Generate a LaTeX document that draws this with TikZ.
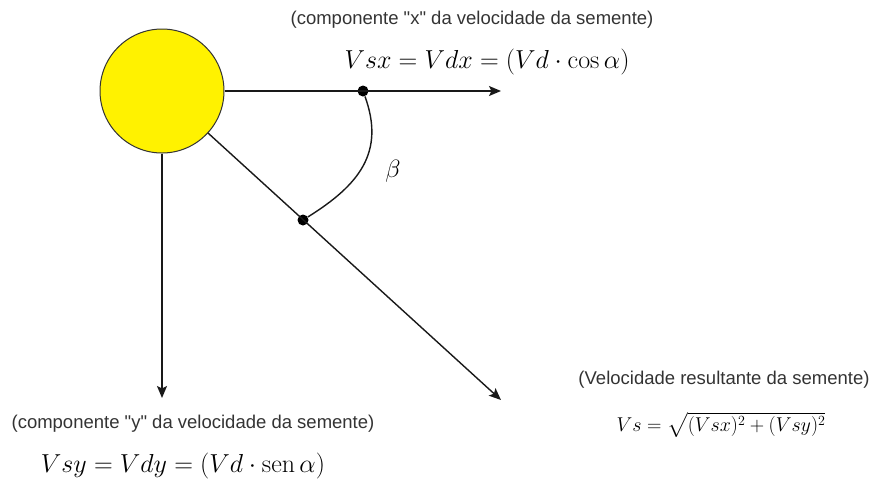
\documentclass[tikz,border=0pt]{standalone}
\usepackage{fix-cm}
\usepackage{amsmath}
\usepackage{fontspec}
\newfontfamily\capfont{Liberation Sans}
\usetikzlibrary{arrows.meta}
\begin{document}
\begin{tikzpicture}[x=1pt,y=1pt,
  line/.style={line width=1.4pt,draw=black!90},
  arr/.style={line,-{Stealth[length=12pt,width=10pt,inset=2.5pt]}},
  dot/.style={circle,fill=black,inner sep=0pt,minimum size=11pt},
  captxt/.style={font=\capfont\fontsize{18.5}{22}\selectfont,text=black!80,inner sep=0pt},
  eq/.style={font=\fontsize{26}{31}\selectfont,inner sep=0pt}]
\useasboundingbox (0,0) rectangle (874,-483);
\node[circle,draw=black!80,line width=1pt,fill=yellow,minimum size=124pt,inner sep=0pt] (seed) at (162,-91) {};
\coordinate (xend) at (501,-91);
\coordinate (yend) at (162,-398);
\coordinate (rend) at (501,-400);
\node[dot] (dx) at (363,-91) {};
\node[dot] (dr) at (303,-220) {};
\draw[arr] (seed.east) -- (xend);
\draw[arr] (seed.south) -- (yend);
\draw[arr] (seed.center) ++(-42.4:62) -- (rend);
\draw[line] (dx) to[out=-70,in=32,looseness=1.15] (dr);
\node[font=\fontsize{25}{30}\selectfont] (beta) at (393,-171) {$\beta$};
\node[captxt] (cx) at (472,-20) {(componente \textquotedbl x\textquotedbl\ da velocidade da semente)};
\node[eq] (ex) at (487,-62) {$Vsx = Vdx = (Vd\cdot \cos\alpha)$};
\node[captxt] (cy) at (193,-424) {(componente \textquotedbl y\textquotedbl\ da velocidade da semente)};
\node[eq] (ey) at (183,-466) {$Vsy = Vdy = (Vd\cdot \mathrm{sen}\,\alpha)$};
\node[captxt] (cr) at (724,-380) {(Velocidade resultante da semente)};
\node[font=\fontsize{20}{24}\selectfont,inner sep=0pt] (er) at (721,-425) {$Vs = \sqrt{(Vsx)^2 + (Vsy)^2}$};
\end{tikzpicture}
\end{document}
